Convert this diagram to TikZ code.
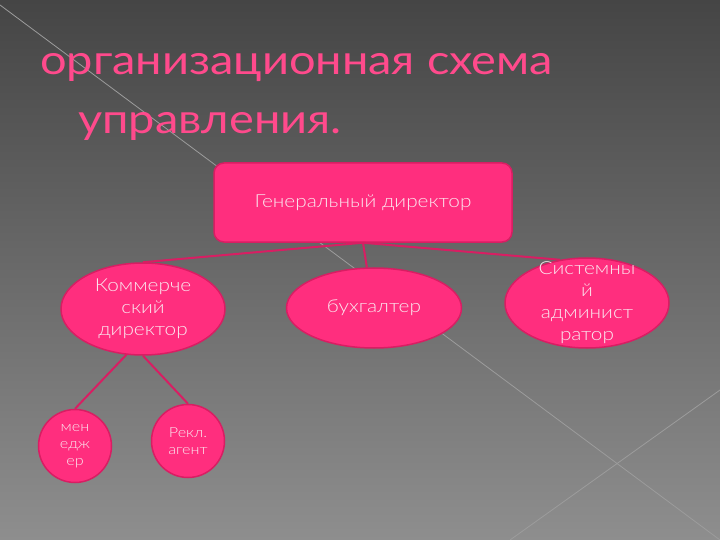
\documentclass[tikz,border=0pt]{standalone}
\usepackage{fontspec}
\setmainfont{Lato Light}[FakeStretch=1.16]
\newfontfamily\headfont{Lato}[FakeStretch=1.15]
\usetikzlibrary{shapes.geometric}
\definecolor{pinkfill}{HTML}{FF2E7E}
\definecolor{pinkline}{HTML}{D81E63}
\definecolor{txtwhite}{HTML}{FBE6EE}
\definecolor{titlepink}{HTML}{FF4A8C}
\definecolor{bgtop}{HTML}{454545}
\definecolor{bgbot}{HTML}{8E8E8E}
\definecolor{stripe}{HTML}{9C9C9C}
\tikzset{
  box/.style={draw=pinkline,line width=1.5bp,fill=pinkfill,rounded corners=10bp,minimum width=298bp,minimum height=79bp,text=txtwhite,font=\fontsize{18}{22}\selectfont},
  oval/.style={ellipse,draw=pinkline,line width=1.5bp,fill=pinkfill,inner sep=0pt,text=txtwhite,align=center,font=\fontsize{18}{22}\selectfont},
  ring/.style={circle,draw=pinkline,line width=1.5bp,fill=pinkfill,inner sep=0pt,minimum size=73bp,text=txtwhite,align=center,font=\fontsize{14}{17}\selectfont},
  link/.style={pinkline,line width=2bp},
  headline/.style={anchor=base west,inner sep=0pt,text=titlepink,font=\headfont\fontsize{41}{41}\selectfont}
}
\begin{document}
\begin{tikzpicture}[x=1bp,y=-1bp]
\useasboundingbox(0,0)rectangle(720,540);
\shade[top color=bgtop,bottom color=bgbot](0,0)rectangle(720,540);
\draw[stripe,line width=0.8bp](0,5)--(720,540);\draw[stripe,line width=0.8bp](510,540)--(720,390);
% title
\node[headline](title1)at(40,75){организационная схема};
\node[headline](title2)at(78,134){управления.};
% chart
\node[box](gen)at(363,202.5){Генеральный директор};
\node[oval,minimum width=164bp,minimum height=92bp](kom)at(143,309){Коммерче\\ский\\директор};
\node[oval,minimum width=175bp,minimum height=80bp](buh)at(374,308){бухгалтер};
\node[oval,minimum width=164bp,minimum height=90bp,label={[text=txtwhite,align=center,font=\fontsize{18}{22}\selectfont]center:Системны\\й\\админист\\ратор}](sys)at(587,303){};
\node[ring](men)at(75,446){мен\\едж\\ер};
\node[ring](rek)at(188,441){Рекл.\\агент};
\draw[link](gen.south)--(kom.north);\draw[link](gen.south)--(buh.100);\draw[link](gen.south)--(sys.122);
\draw[link](kom.250)--(men.north);\draw[link](kom.south)--(rek.north);
\end{tikzpicture}
\end{document}
